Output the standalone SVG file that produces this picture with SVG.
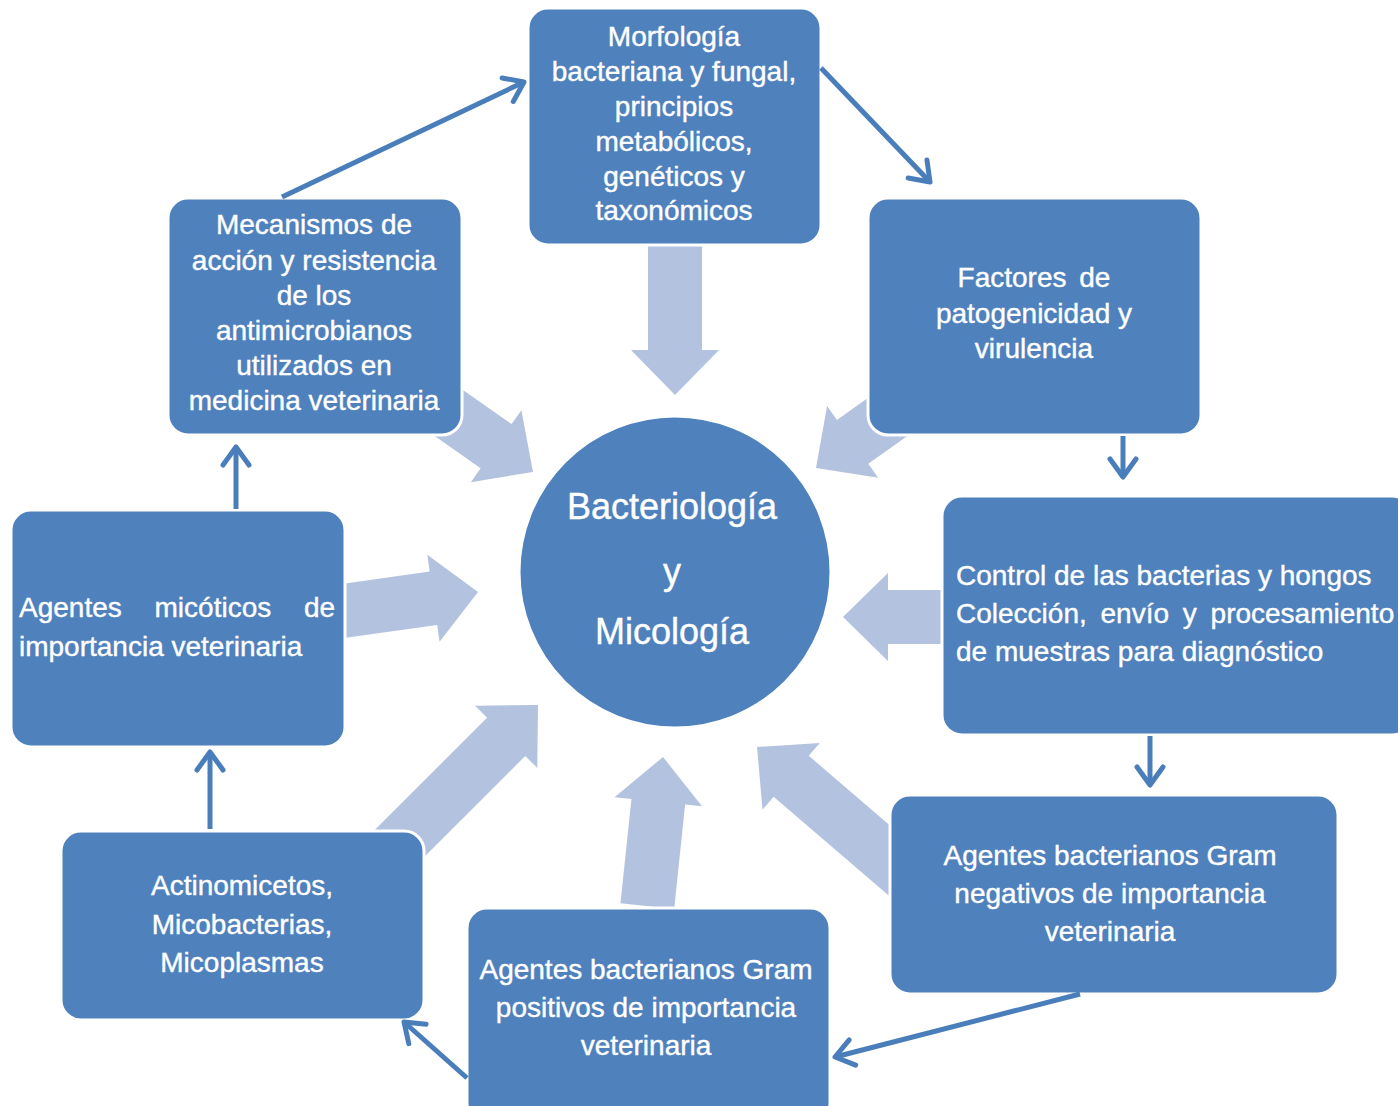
<svg xmlns="http://www.w3.org/2000/svg" width="1398" height="1106" viewBox="0 0 1398 1106">
<defs>
<style>
.box{fill:#4F81BD;stroke:#FFFFFF;stroke-width:3}
.big{fill:#B3C3DF}
.t{font-family:"Liberation Sans",Arial,sans-serif;font-size:28px;fill:#FFFFFF;stroke:#FFFFFF;stroke-width:0.4;text-anchor:middle}
.tl{font-family:"Liberation Sans",Arial,sans-serif;font-size:28px;fill:#FFFFFF;stroke:#FFFFFF;stroke-width:0.4}
.tc{font-family:"Liberation Sans",Arial,sans-serif;font-size:36px;fill:#FFFFFF;stroke:#FFFFFF;stroke-width:0.4;text-anchor:middle}
.link{fill:none;stroke:#4A7EBB;stroke-width:5;marker-end:url(#chev)}
</style>
<marker id="chev" markerUnits="userSpaceOnUse" markerWidth="34" markerHeight="34" viewBox="0 0 34 34" refX="30" refY="17" orient="auto" overflow="visible">
<path d="M12,4 L30,17 L12,30" fill="none" stroke="#4A7EBB" stroke-width="5" stroke-linecap="round" stroke-linejoin="round"/>
</marker>
<path id="blk" d="M-150,-27 L-45,-27 L-45,-44 L0,0 L-45,44 L-45,27 L-150,27 Z"/>
<path id="blk-long" d="M-205,-27 L-45,-27 L-45,-44 L0,0 L-45,44 L-45,27 L-205,27 Z"/>
</defs>
<rect width="1398" height="1106" fill="#FFFFFF"/>
<g id="hub-arrows" class="big">
<use href="#blk" transform="translate(675,395) rotate(90)"/>
<use href="#blk" transform="translate(533,472) rotate(35)"/>
<use href="#blk" transform="translate(816,468) rotate(144.5)"/>
<use href="#blk" transform="translate(478,592) rotate(-8)"/>
<use href="#blk" transform="translate(843,617) rotate(180)"/>
<use href="#blk-long" transform="translate(538,705) rotate(-45)"/>
<use href="#blk" transform="translate(663,757) rotate(-84)"/>
<use href="#blk-long" transform="translate(757,747) rotate(-139.4)"/>
</g>
<g id="center">
<circle cx="675" cy="572" r="156" fill="#4F81BD" stroke="#FFFFFF" stroke-width="3"/>
<text class="tc" x="672" y="519">Bacteriología</text>
<text class="tc" x="672" y="584">y</text>
<text class="tc" x="672" y="644">Micología</text>
</g>
<g id="n-morfologia">
<rect class="box" x="528" y="8" width="293" height="237" rx="20"/>
<text class="t" x="674" y="46">Morfología</text>
<text class="t" x="674" y="81">bacteriana y fungal,</text>
<text class="t" x="674" y="116">principios</text>
<text class="t" x="674" y="151">metabólicos,</text>
<text class="t" x="674" y="186">genéticos y</text>
<text class="t" x="674" y="220">taxonómicos</text>
</g>
<g id="n-factores">
<rect class="box" x="868" y="198" width="333" height="237" rx="20"/>
<text class="t" x="1034" y="287" style="word-spacing:5px">Factores de</text>
<text class="t" x="1034" y="323">patogenicidad y</text>
<text class="t" x="1034" y="358">virulencia</text>
</g>
<g id="n-control">
<rect class="box" x="942" y="496" width="470" height="239" rx="20"/>
<text class="tl" x="956" y="585">Control de las bacterias y hongos</text>
<text class="tl" x="956" y="623" style="word-spacing:6px">Colección, envío y procesamiento</text>
<text class="tl" x="956" y="661">de muestras para diagnóstico</text>
</g>
<g id="n-gramneg">
<rect class="box" x="890" y="795" width="448" height="199" rx="20"/>
<text class="t" x="1110" y="865">Agentes bacterianos Gram</text>
<text class="t" x="1110" y="903">negativos de importancia</text>
<text class="t" x="1110" y="941">veterinaria</text>
</g>
<g id="n-grampos">
<rect class="box" x="467" y="908" width="363" height="215" rx="20"/>
<text class="t" x="646" y="979">Agentes bacterianos Gram</text>
<text class="t" x="646" y="1017">positivos de importancia</text>
<text class="t" x="646" y="1055">veterinaria</text>
</g>
<g id="n-actino">
<rect class="box" x="61" y="831" width="363" height="189" rx="20"/>
<text class="t" x="242" y="895">Actinomicetos,</text>
<text class="t" x="242" y="934">Micobacterias,</text>
<text class="t" x="242" y="972">Micoplasmas</text>
</g>
<g id="n-micoticos">
<rect class="box" x="11" y="510" width="334" height="237" rx="20"/>
<text class="tl" x="19" y="617" style="word-spacing:25px">Agentes micóticos de</text>
<text class="tl" x="19" y="656">importancia veterinaria</text>
</g>
<g id="n-mecanismos">
<rect class="box" x="168" y="198" width="294" height="237" rx="20"/>
<text class="t" x="314" y="234">Mecanismos de</text>
<text class="t" x="314" y="270">acción y resistencia</text>
<text class="t" x="314" y="305">de los</text>
<text class="t" x="314" y="340">antimicrobianos</text>
<text class="t" x="314" y="375">utilizados en</text>
<text class="t" x="314" y="410">medicina veterinaria</text>
</g>
<g id="connectors">
<line class="link" x1="282" y1="197" x2="524" y2="82"/>
<line class="link" x1="821" y1="68" x2="930" y2="182"/>
<line class="link" x1="1123" y1="436" x2="1123" y2="477"/>
<line class="link" x1="1150" y1="736" x2="1150" y2="785"/>
<line class="link" x1="1080" y1="994" x2="835" y2="1057"/>
<line class="link" x1="467" y1="1078" x2="404" y2="1022"/>
<line class="link" x1="210" y1="829" x2="210" y2="752"/>
<line class="link" x1="236" y1="509" x2="236" y2="447"/>
</g>
</svg>
